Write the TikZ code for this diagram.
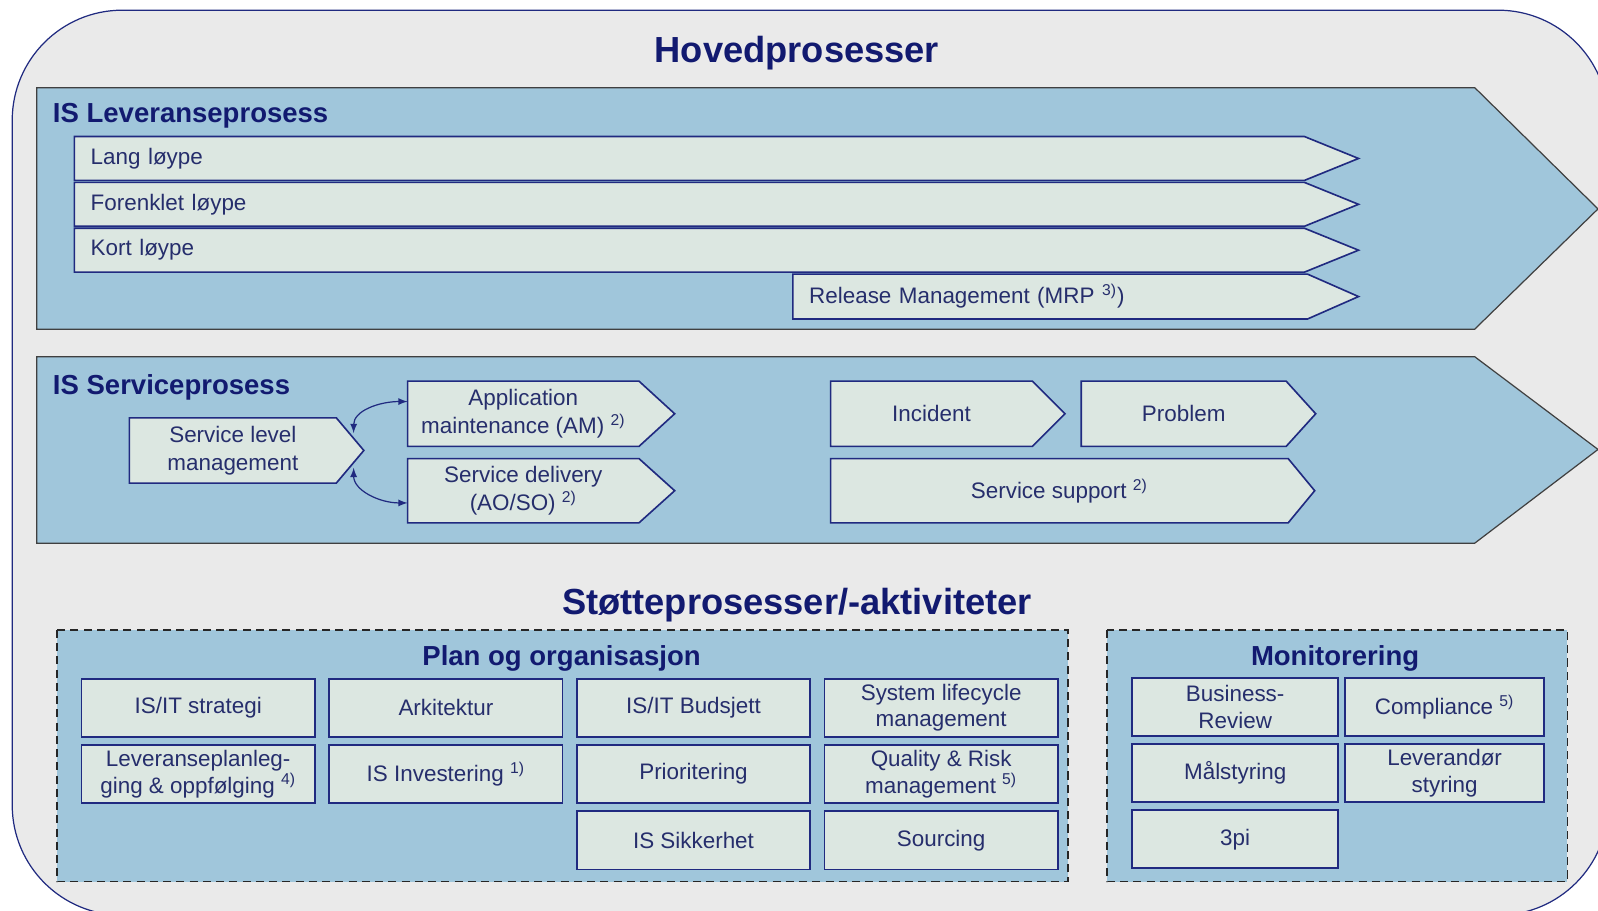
\documentclass[tikz,border=0pt]{standalone}
\usepackage{fontspec}
\setmainfont{Liberation Sans}
\usetikzlibrary{calc, positioning, arrows, backgrounds, shapes}
\definecolor{framegray}{RGB}{234,234,234}
\definecolor{bandblue}{RGB}{160,198,219}
\definecolor{cellgreen}{RGB}{220,231,225}
\definecolor{linenavy}{RGB}{32,42,128}
\definecolor{textnavy}{RGB}{38,46,108}
\definecolor{headnavy}{RGB}{18,26,112}

\begin{document}
\begin{tikzpicture}[
    x=0.5pt, y=-0.5pt,
    every node/.style={font=\fontsize{11}{13.5}\selectfont, text=textnavy, inner sep=0pt, outer sep=0pt},
    frame/.style={draw=linenavy, fill=framegray, line width=0.6pt, rounded corners=54pt},
    title/.style={font=\bfseries\fontsize{17.8}{20}\selectfont, text=headnavy},
    heading/.style={font=\bfseries\fontsize{13.5}{16}\selectfont, text=headnavy},
    band/.style={draw=black!75, fill=bandblue, line width=0.6pt},
    group/.style={draw=black!85, dash pattern=on 4pt off 2.5pt, fill=bandblue, line width=0.7pt},
    lane/.style={anchor=north west, minimum height=21.5pt, text width=587.5pt, inner xsep=8pt, align=left},
    chev/.style={draw=linenavy, fill=cellgreen, line width=0.8pt},
    stepbox/.style={anchor=north west, minimum height=32pt, align=center},
    cell/.style={draw=linenavy, fill=cellgreen, line width=0.8pt, minimum width=114.5pt, minimum height=28.5pt, align=center, font=\fontsize{11}{13}\selectfont},
    link/.style={latex-latex, draw=linenavy, line width=0.6pt}
]
\useasboundingbox (0,0) rectangle (1568,893);

% frame, process bands and support groups
\begin{pgfonlayer}{background}
\begin{scope}
  \clip (0,0) rectangle (1568,893);
  \draw[frame] (12,10) rectangle (1578,898);
\end{scope}
\draw[band] (36,86) -- (1447,86) -- (1568,205) -- (1447,323) -- (36,323) -- cycle;
\draw[band] (36,350) -- (1447,350) -- (1568,441) -- (1447,533) -- (36,533) -- cycle;
\draw[group] (56,618) rectangle (1048,865);
\draw[group] (1086,618) rectangle (1538,865);
\end{pgfonlayer}

\node[title] (hoved) at (782,52) {Hovedprosesser};
\node[heading, anchor=west] (leveranse) at (52,114) {IS Leveranseprosess};
\node[heading, anchor=west] (service) at (52,380) {IS Serviceprosess};

% leveranse lanes
\node[lane] (lang) at (73,134) {Lang løype};
\node[lane, below=1pt of lang] (forenklet) {Forenklet løype};
\node[lane, below=1pt of forenklet] (kort) {Kort løype};
\node[lane, text width=236.5pt, minimum height=22pt] (release) at (778,269) {Release Management (MRP \textsuperscript{3)})};

% service steps
\node[stepbox, minimum width=101.5pt] (slm) at (127,410) {Service level\\management};
\node[stepbox, minimum width=113.5pt] (am) at (400,374) {Application\\maintenance (AM) \textsuperscript{2)}};
\node[stepbox, minimum width=113.5pt, minimum height=31.5pt, below=6pt of am] (sd) {Service delivery\\(AO/SO) \textsuperscript{2)}};
\node[stepbox, minimum width=99pt] (incident) at (815,374) {Incident};
\node[stepbox, minimum width=100.5pt, right=24pt of incident] (problem) {Problem};
\node[stepbox, minimum width=224.5pt, minimum height=31.5pt] (support) at (815,450) {Service support \textsuperscript{2)}};

\begin{pgfonlayer}{background}
\foreach \n/\d in {lang/53, forenklet/53, kort/53, release/50, slm/27, am/35, sd/35, incident/32, problem/29, support/26}
  \draw[chev] (\n.north west) -- (\n.north east) -- ($(\n.east)+(\d,0)$) -- (\n.south east) -- (\n.south west) -- cycle;
\end{pgfonlayer}

\draw[link] ($(slm.east)+(17,-17)$) .. controls +(0,-22) and +(-28,0) .. ($(am.west)+(0,-12)$);
\draw[link] ($(slm.east)+(17,17)$) .. controls +(0,22) and +(-28,0) .. ($(sd.west)+(0,12)$);

\node[title] (stotte) at (782,594) {Støtteprosesser/-aktiviteter};

% plan og organisasjon
\node[heading] (plan) at (551,646) {Plan og organisasjon};
\node[cell, anchor=north west] (strategi) at (80,666) {IS/IT strategi};
\node[cell, right=7pt of strategi] (arkitektur) {Arkitektur};
\node[cell, right=7pt of arkitektur] (budsjett) {IS/IT Budsjett};
\node[cell, right=7pt of budsjett] (lifecycle) {System lifecycle\\management};
\node[cell, below=4pt of strategi] (levplan) {Leveranseplanleg-\\ging \& oppfølging \textsuperscript{4)}};
\node[cell, below=4pt of arkitektur] (investering) {IS Investering \textsuperscript{1)}};
\node[cell, below=4pt of budsjett] (prioritering) {Prioritering};
\node[cell, below=4pt of lifecycle] (quality) {Quality \& Risk\\management \textsuperscript{5)}};
\node[cell, below=4pt of prioritering] (sikkerhet) {IS Sikkerhet};
\node[cell, below=4pt of quality] (sourcing) {Sourcing};

% monitorering
\node[heading] (monitor) at (1310,646) {Monitorering};
\node[cell, anchor=north west, minimum width=101pt] (business) at (1111,665) {Business-\\Review};
\node[cell, minimum width=97.5pt, right=3.5pt of business] (compliance) {Compliance \textsuperscript{5)}};
\node[cell, minimum width=101pt, below=4pt of business] (malstyring) {Målstyring};
\node[cell, minimum width=97.5pt, below=4pt of compliance] (leverandor) {Leverandør\\styring};
\node[cell, minimum width=101pt, below=4pt of malstyring] (trepi) {3pi};
\end{tikzpicture}
\end{document}
